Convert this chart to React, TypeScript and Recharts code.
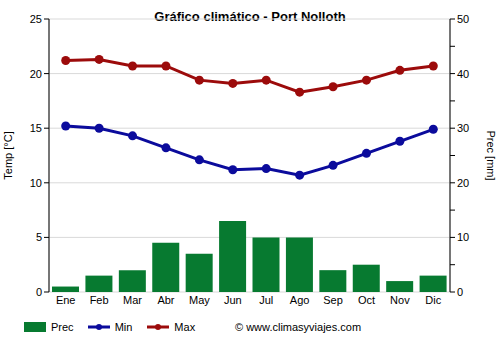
import { Bar, CartesianGrid, ComposedChart, Line, XAxis, YAxis } from "recharts";

const months = ["Ene", "Feb", "Mar", "Abr", "May", "Jun", "Jul", "Ago", "Sep", "Oct", "Nov", "Dic"];
const precMm = [1, 3, 4, 9, 7, 13, 10, 10, 4, 5, 2, 3];
const tempMin = [15.2, 15.0, 14.3, 13.2, 12.1, 11.2, 11.3, 10.7, 11.6, 12.7, 13.8, 14.9];
const tempMax = [21.2, 21.3, 20.7, 20.7, 19.4, 19.1, 19.4, 18.3, 18.8, 19.4, 20.3, 20.7];
const tempTicks = [0, 5, 10, 15, 20, 25];
const precTicks = [0, 5, 10, 15, 20, 25, 30, 35, 40, 45, 50];
const monthEdges = [0, 1, 2, 3, 4, 5, 6, 7, 8, 9, 10, 11, 12];

const GREEN = "#077a30";
const BLUE = "#0b0b9c";
const RED = "#9c0b0b";
const GRID = "#d9d9d9";
const FONT = "'Liberation Sans', Arial, sans-serif";

const data = months.map((m, i) => ({ m, prec: precMm[i], min: tempMin[i], max: tempMax[i] }));

const tickStyle = { fill: "#000", fontSize: 11, fontFamily: FONT };

function LegendRow() {
  return (
    <div
      style={{
        position: "absolute",
        left: 24,
        top: 321,
        display: "flex",
        alignItems: "center",
        fontFamily: FONT,
        fontSize: 11,
        color: "#000",
      }}
    >
      <svg width={22} height={10}>
        <rect x={0} y={0} width={22} height={10} fill={GREEN} />
      </svg>
      <span style={{ marginLeft: 5, marginRight: 14 }}>Prec</span>
      <svg width={22} height={10}>
        <line x1={0} y1={5} x2={22} y2={5} stroke={BLUE} strokeWidth={3} />
        <circle cx={11} cy={5} r={3} fill={BLUE} />
      </svg>
      <span style={{ marginLeft: 5, marginRight: 15 }}>Min</span>
      <svg width={22} height={10}>
        <line x1={0} y1={5} x2={22} y2={5} stroke={RED} strokeWidth={3} />
        <circle cx={11} cy={5} r={3} fill={RED} />
      </svg>
      <span style={{ marginLeft: 5 }}>Max</span>
      <span style={{ position: "absolute", left: 211, whiteSpace: "nowrap" }}>© www.climasyviajes.com</span>
    </div>
  );
}

export default function App() {
  return (
    <div style={{ position: "fixed", left: 0, top: 0, width: 500, height: 350, background: "#fff" }}>
      <div
        style={{
          position: "absolute",
          top: 9,
          left: 0,
          width: 500,
          textAlign: "center",
          fontFamily: FONT,
          fontSize: 13,
          fontWeight: "bold",
        }}
      >
        Gráfico climático - Port Nolloth
      </div>
      <ComposedChart
        width={500}
        height={350}
        data={data}
        margin={{ top: 19, right: 0, bottom: 28, left: 0 }}
        barCategoryGap="9%"
      >
        <CartesianGrid xAxisId="edge" yAxisId="temp" stroke={GRID} strokeWidth={1} />
        <XAxis
          xAxisId="edge"
          type="number"
          domain={[0, 12]}
          ticks={monthEdges}
          interval={0}
          height={0}
          tick={false}
          tickSize={5}
          tickLine={{ stroke: "#000" }}
          axisLine={{ stroke: "#000", strokeWidth: 3 }}
        />
        <XAxis
          xAxisId="cat"
          dataKey="m"
          height={30}
          tickLine={false}
          axisLine={false}
          tick={tickStyle}
          tickSize={4}
          tickMargin={0}
          interval={0}
        />
        <YAxis
          yAxisId="temp"
          width={49}
          domain={[0, 25]}
          ticks={tempTicks}
          interval={0}
          tick={tickStyle}
          tickSize={5}
          tickLine={{ stroke: "#000" }}
          axisLine={{ stroke: "#000" }}
          label={{ value: "Temp [°C]", angle: -90, position: "insideLeft", offset: 8, style: { ...tickStyle, textAnchor: "middle" } }}
        />
        <YAxis
          yAxisId="prec"
          orientation="right"
          width={50}
          domain={[0, 50]}
          ticks={precTicks}
          interval={0}
          tick={tickStyle}
          tickFormatter={(v: number) => (v % 10 === 0 ? String(v) : "")}
          tickSize={5}
          tickLine={{ stroke: "#000" }}
          axisLine={{ stroke: "#000" }}
          label={{ value: "Prec [mm]", angle: 90, position: "insideRight", offset: 9, style: { ...tickStyle, textAnchor: "middle" } }}
        />
        <Bar xAxisId="cat" yAxisId="prec" dataKey="prec" fill={GREEN} isAnimationActive={false} />
        <Line
          xAxisId="cat"
          yAxisId="temp"
          dataKey="min"
          stroke={BLUE}
          strokeWidth={3}
          dot={{ r: 4.5, fill: BLUE, stroke: BLUE, strokeWidth: 0 }}
          isAnimationActive={false}
        />
        <Line
          xAxisId="cat"
          yAxisId="temp"
          dataKey="max"
          stroke={RED}
          strokeWidth={3}
          dot={{ r: 4.5, fill: RED, stroke: RED, strokeWidth: 0 }}
          isAnimationActive={false}
        />
      </ComposedChart>
      <LegendRow />
    </div>
  );
}
